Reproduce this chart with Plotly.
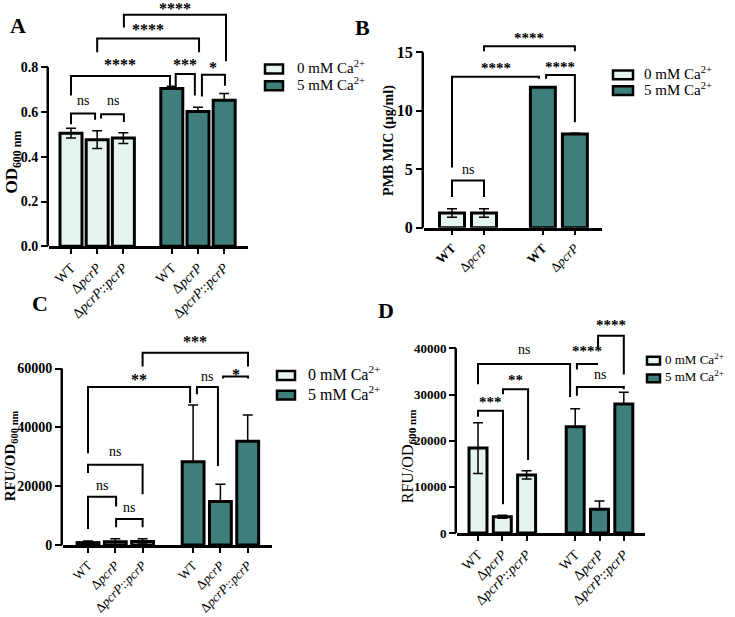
import plotly.graph_objects as go

W, H = 735, 617
SERIF = "Liberation Serif"
LIGHT = "#e5f4ee"
TEAL = "#3f7f7b"
LEG0 = "0 mM Ca<sup>2+</sup>"
LEG5 = "5 mM Ca<sup>2+</sup>"

# ---------------- Panel A : growth (OD600) ----------------
a_pos0 = [0, 1, 2]
a_pos5 = [3.85, 4.85, 5.85]
a_lab = ["WT", "Δ<i>pcrP</i>", "Δ<i>pcrP</i>::<i>pcrP</i>"]
a_val0 = [0.505, 0.476, 0.483]
a_err0 = [0.022, 0.040, 0.024]
a_val5 = [0.704, 0.601, 0.652]
a_err5 = [0.010, 0.020, 0.030]
a_yticks = [0, 0.2, 0.4, 0.6, 0.8]
a_yticktext = ["0.0", "0.2", "0.4", "0.6", "0.8"]
# x0, x1, y of bar, y end of left leg, y end of right leg, label, label y
a_brackets = [
    (0.0, 0.92, 0.593, 0.545, 0.565, "ns", 0.65),
    (1.15, 2.02, 0.589, 0.570, 0.555, "ns", 0.65),
    (0.0, 3.78, 0.760, 0.673, 0.716, "****", 0.826),
    (4.0, 4.73, 0.769, 0.716, 0.673, "***", 0.826),
    (5.0, 5.88, 0.765, 0.668, 0.716, "*", 0.813),
    (1.0, 4.89, 0.927, 0.866, 0.866, "****", 0.98),
    (2.02, 5.92, 1.033, 0.976, 0.826, "****", 1.074),
]

# ---------------- Panel B : PMB MIC ----------------
b_pos0 = [0, 1]
b_pos5 = [2.84, 3.84]
b_lab = ["<b>WT</b>", "Δ<i>pcrP</i>"]
b_val0 = [1.25, 1.25]
b_err0 = [0.37, 0.37]
b_val5 = [12.0, 8.0]
b_err5 = [0.0, 0.06]
b_yticks = [0, 5, 10, 15]
b_yticktext = ["0", "5", "10", "15"]
b_brackets = [
    (0.0, 1.0, 4.04, 2.61, 2.61, "ns", 4.97),
    (0.0, 2.72, 12.89, 5.14, 12.72, "****", 13.9),
    (2.94, 3.84, 13.06, 12.72, 9.01, "****", 13.98),
    (1.0, 3.84, 15.5, 15.08, 15.08, "****", 16.51),
]

# ---------------- Panel C : RFU/OD600 ----------------
c_pos0 = [0, 1, 2]
c_pos5 = [3.85, 4.85, 5.85]
c_lab = ["WT", "Δ<i>pcrP</i>", "Δ<i>pcrP</i>::<i>pcrP</i>"]
c_val0 = [800, 1100, 1200]
c_err0 = [550, 1000, 900]
c_val5 = [28300, 14800, 35300]
c_err5 = [19300, 5800, 8900]
c_yticks = [0, 20000, 40000, 60000]
c_yticktext = ["0", "20000", "40000", "60000"]
c_brackets = [
    (2.0, 5.86, 65360, 60670, 60670, "***", 70390),
    (0.0, 3.74, 53730, 31170, 48270, "**", 57320),
    (3.99, 4.76, 53730, 51290, 26820, "ns", 57320),
    (4.95, 5.86, 57320, 56650, 56650, "*", 58900),
    (0.0, 2.0, 27250, 24470, 17200, "ns", 31840),
    (0.0, 1.03, 16420, 5460, 13070, "ns", 20210),
    (1.03, 2.0, 8820, 6030, 6030, "ns", 12740),
]

# ---------------- Panel D : RFU/OD600 ----------------
d_pos0 = [0, 1, 2]
d_pos5 = [4, 5, 6]
d_lab = ["WT", "Δ<i>pcrP</i>", "Δ<i>pcrP</i>::<i>pcrP</i>"]
d_val0 = [18400, 3540, 12600]
d_err0 = [5500, 350, 900]
d_val5 = [23000, 5170, 27960]
d_err5 = [3900, 1770, 2550]
d_yticks = [0, 10000, 20000, 30000, 40000]
d_yticktext = ["0", "10000", "20000", "30000", "40000"]
d_brackets = [
    (0.0, 3.79, 36620, 32210, 29440, "ns", 39670),
    (4.07, 4.94, 36620, 35410, 36620, "****", 40100),
    (4.94, 6.0, 42720, 40100, 34340, "****", 45650),
    (4.07, 6.0, 31630, 29710, 31140, "ns", 34340),
    (1.03, 2.06, 31140, 30080, 15850, "**", 33700),
    (0.0, 1.03, 26510, 25170, 6250, "***", 29010),
]


def fx(px):
    return px / W


def fy(py):
    return 1 - py / H


panels = [
    dict(s="", pos0=a_pos0, pos5=a_pos5, lab=a_lab, v0=a_val0, e0=a_err0, v5=a_val5, e5=a_err5,
         yt=a_yticks, ytt=a_yticktext, br=a_brackets, xpx=(49, 248), ypx=(0, 250),
         xr=(-0.84, 6.76), yr=(0, 1.0989), ytop=0.8, bw=0.84, tf=14, xf=14, sf=16, nf=14,
         leg=(265, 70, 87, 18, 9, 295, 15)),
    dict(s="2", pos0=b_pos0, pos5=b_pos5, lab=b_lab, v0=b_val0, e0=b_err0, v5=b_val5, e5=b_err5,
         yt=b_yticks, ytt=b_yticktext, br=b_brackets, xpx=(424, 602), ypx=(25, 231),
         xr=(-0.875, 4.6875), yr=(0, 17.355), ytop=15, bw=0.78, tf=16, xf=13, sf=15, nf=14,
         leg=(613, 76, 92, 20, 9, 642, 15)),
    dict(s="3", pos0=c_pos0, pos5=c_pos5, lab=c_lab, v0=c_val0, e0=c_err0, v5=c_val5, e5=c_err5,
         yt=c_yticks, ytt=c_yticktext, br=c_brackets, xpx=(63, 272), ypx=(335, 553),
         xr=(-0.916, 6.74), yr=(0, 73074), ytop=60000, bw=0.8, tf=14, xf=13, sf=16, nf=14,
         leg=(277, 381, 401, 18, 9, 306, 16)),
    dict(s="4", pos0=d_pos0, pos5=d_pos5, lab=d_lab, v0=d_val0, e0=d_err0, v5=d_val5, e5=d_err5,
         yt=d_yticks, ytt=d_yticktext, br=d_brackets, xpx=(457, 645), ypx=(320, 541),
         xr=(-0.864, 6.872), yr=(0, 47139), ytop=40000, bw=0.74, tf=13, xf=14, sf=15, nf=14,
         leg=(647, 366, 384, 13, 8, 663, 13)),
]

fig = go.Figure()
shapes = []
annotations = []
layout = {}

for p in panels:
    s = p["s"]
    xa, ya = "x" + s, "y" + s
    fig.add_trace(go.Bar(
        x=p["pos0"], y=p["v0"], width=p["bw"], name=LEG0, showlegend=False,
        xaxis=xa, yaxis=ya,
        marker=dict(color=LIGHT, line=dict(color="black", width=3)),
        error_y=dict(type="data", array=p["e0"], symmetric=True, color="black",
                     thickness=1.5, width=5),
    ))
    fig.add_trace(go.Bar(
        x=p["pos5"], y=p["v5"], width=p["bw"], name=LEG5, showlegend=False,
        xaxis=xa, yaxis=ya,
        marker=dict(color=TEAL, line=dict(color="black", width=3)),
        error_y=dict(type="data", array=p["e5"], arrayminus=[0] * len(p["e5"]),
                     symmetric=False, color="black", thickness=1.5, width=5),
    ))
    layout["xaxis" + s] = dict(
        domain=[fx(p["xpx"][0]), fx(p["xpx"][1])], range=list(p["xr"]), anchor=ya,
        tickvals=p["pos0"] + p["pos5"], ticktext=p["lab"] + p["lab"], tickangle=-45,
        showline=True, linecolor="black", linewidth=2.5, ticks="outside", ticklen=5,
        tickwidth=2, tickcolor="black", showgrid=False, zeroline=False,
        tickfont=dict(family=SERIF, size=p["xf"], color="black"),
    )
    layout["yaxis" + s] = dict(
        domain=[fy(p["ypx"][1]), fy(p["ypx"][0])], range=list(p["yr"]), anchor=xa,
        tickvals=p["yt"], ticktext=p["ytt"], showline=False, ticks="outside", ticklen=7,
        tickwidth=2, tickcolor="black", showgrid=False, zeroline=False,
        tickfont=dict(family=SERIF, size=p["tf"], color="black", weight="bold"),
    )
    # y-axis spine limited to the tick range
    shapes.append(dict(type="line", xref=xa + " domain", yref=ya, xsizemode="pixel",
                       xanchor=0, x0=-1.25, x1=-1.25, y0=0, y1=p["ytop"],
                       line=dict(color="black", width=2.5)))
    for (x0, x1, yh, yl0, yl1, txt, ty) in p["br"]:
        shapes.append(dict(type="path", xref=xa, yref=ya,
                           path=f"M {x0},{yl0} L {x0},{yh} L {x1},{yh} L {x1},{yl1}",
                           line=dict(color="black", width=2)))
        star = txt != "ns"
        annotations.append(dict(
            x=(x0 + x1) / 2, y=ty, xref=xa, yref=ya, text=txt, showarrow=False,
            xanchor="center", yanchor="middle", yshift=-3 if star else 0,
            font=dict(family=SERIF, size=p["sf"] if star else p["nf"], color="black",
                      weight="bold" if star else "normal"),
        ))
    # legend (box + label) for this panel
    bx, r1, r2, bwpx, bhpx, tx, lf = p["leg"]
    for (row, fill, name) in [(r1, LIGHT, LEG0), (r2, TEAL, LEG5)]:
        shapes.append(dict(type="rect", xref="paper", yref="paper",
                           x0=fx(bx), x1=fx(bx + bwpx), y0=fy(row + bhpx / 2), y1=fy(row - bhpx / 2),
                           fillcolor=fill, line=dict(color="black", width=2.5)))
        annotations.append(dict(x=fx(tx), y=fy(row), xref="paper", yref="paper", text=name,
                                showarrow=False, xanchor="left", yanchor="middle", yshift=2,
                                font=dict(family=SERIF, size=lf, color="black")))

# panel letters
for txt, px, py in [("A", 18, 26), ("B", 362, 28), ("C", 40, 308), ("D", 386, 315)]:
    annotations.append(dict(x=fx(px), y=fy(py), xref="paper", yref="paper", text=f"<b>{txt}</b>",
                            showarrow=False, xanchor="center", yanchor="middle",
                            font=dict(family=SERIF, size=22, color="black")))

# y-axis titles
for txt, px, py, sz in [
    ("<b>OD<sub>600 nm</sub></b>", 13, 165, 17),
    ("<b>PMB MIC (µg/ml)</b>", 389, 143, 14),
    ("<b>RFU/OD<sub>600 nm</sub></b>", 11, 463, 15),
    ("RFU/OD<sub><b>600 nm</b></sub>", 408, 463, 16),
]:
    annotations.append(dict(x=fx(px), y=fy(py), xref="paper", yref="paper", text=txt,
                            showarrow=False, textangle=-90, xanchor="center", yanchor="middle",
                            font=dict(family=SERIF, size=sz, color="black")))

fig.update_layout(
    width=W, height=H, margin=dict(l=0, r=0, t=0, b=0),
    plot_bgcolor="white", paper_bgcolor="white", barmode="overlay", showlegend=False,
    shapes=shapes, annotations=annotations, **layout,
)

fig.write_html("out.html")
